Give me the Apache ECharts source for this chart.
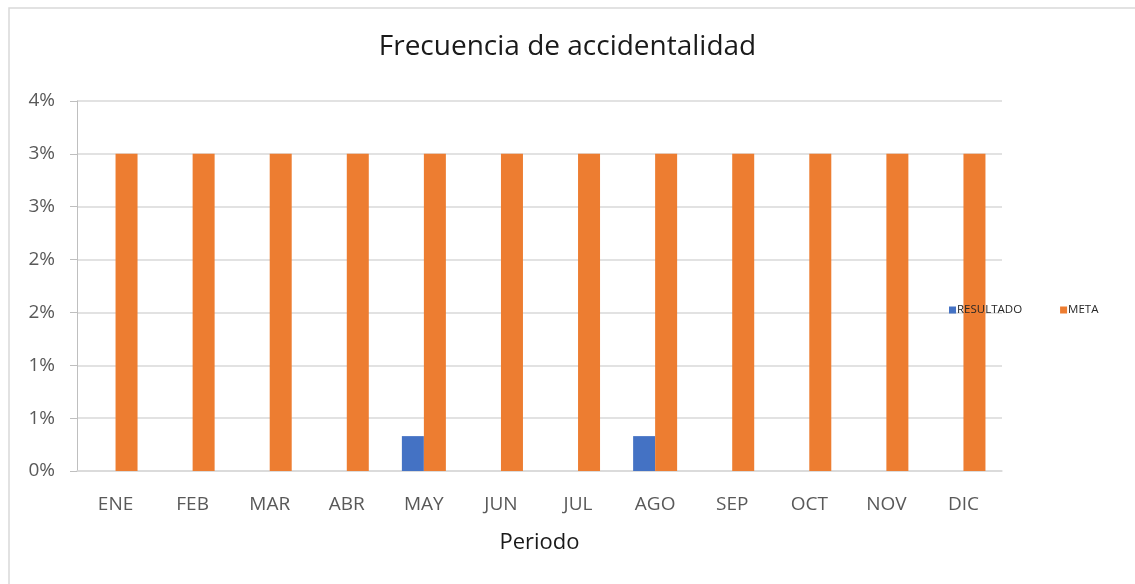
<!DOCTYPE html>
<html>
<head>
<meta charset="utf-8">
<script src="https://cdn.jsdelivr.net/npm/echarts@6/dist/echarts.min.js"></script>
<style>
  html, body { margin: 0; padding: 0; background: #fff; }
  #main { width: 1135px; height: 584px; }
</style>
</head>
<body>
<div id="main"></div>
<script>
  // datos (en %)
  var meses = ['ENE', 'FEB', 'MAR', 'ABR', 'MAY', 'JUN', 'JUL', 'AGO', 'SEP', 'OCT', 'NOV', 'DIC']
  var resultado = [0, 0, 0, 0, 0.33, 0, 0, 0.33, 0, 0, 0, 0]
  var meta = [3, 3, 3, 3, 3, 3, 3, 3, 3, 3, 3, 3]

  var fuente = 'Open Sans'
  var myChart = echarts.init(document.getElementById('main'))
  var option = {
    animation: false,
    textStyle: { fontFamily: fuente },
    title: {
      text: 'Frecuencia de accidentalidad',
      left: 'center',
      top: 28,
      textStyle: { fontFamily: fuente, fontSize: 28, fontWeight: 'normal', color: '#1a1a1a' }
    },
    graphic: [{
      type: 'rect',
      shape: { x: 9, y: 8, width: 1140, height: 590 },
      style: { fill: 'none', stroke: '#d9d9d9', lineWidth: 1.5 },
      silent: true
    }],
    legend: {
      left: 944,
      top: 299,
      itemWidth: 7,
      itemHeight: 7,
      itemGap: 38,
      icon: 'rect',
      textStyle: { fontFamily: fuente, fontSize: 11.5, color: '#262626', padding: [0, 0, 0, -4] },
      data: ['RESULTADO', 'META']
    },
    grid: { left: 77, right: 133, top: 101, bottom: 113 },
    xAxis: {
      type: 'category',
      data: meses,
      name: 'Periodo',
      nameLocation: 'middle',
      nameGap: 61,
      nameTextStyle: { fontFamily: fuente, fontSize: 22, color: '#1a1a1a' },
      axisLine: { lineStyle: { color: '#d9d9d9', width: 1.5 } },
      axisTick: { show: false },
      axisLabel: { fontFamily: fuente, fontSize: 19, color: '#595959', margin: 24 }
    },
    yAxis: {
      type: 'value',
      min: 0,
      max: 3.5,
      interval: 0.5,
      axisLine: { show: true, lineStyle: { color: '#bfbfbf' } },
      axisTick: { show: true, length: 7, lineStyle: { color: '#bfbfbf' } },
      splitLine: { lineStyle: { color: '#d9d9d9', width: 1.5 } },
      axisLabel: {
        fontFamily: fuente, fontSize: 19, color: '#595959', margin: 22,
        formatter: function (v) { return Math.round(v) + '%' }
      }
    },
    series: [
      {
        name: 'RESULTADO',
        type: 'bar',
        data: resultado,
        barWidth: 22,
        barGap: '0%',
        itemStyle: { color: '#4472c4' }
      },
      {
        name: 'META',
        type: 'bar',
        data: meta,
        barWidth: 22,
        itemStyle: { color: '#ed7d31' }
      }
    ]
  }
  option && myChart.setOption(option)
</script>
</body>
</html>
